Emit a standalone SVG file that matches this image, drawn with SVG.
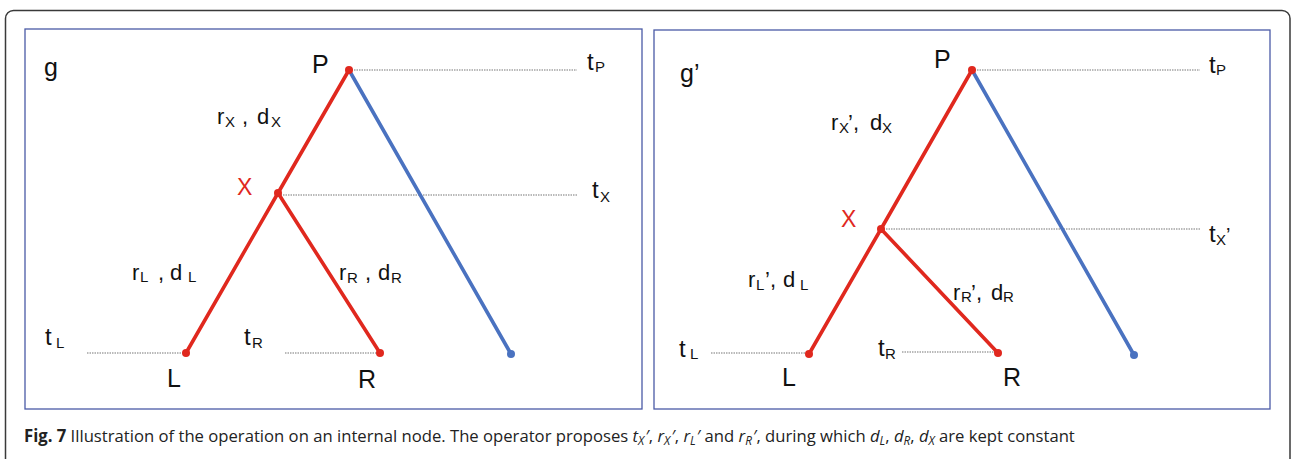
<svg xmlns="http://www.w3.org/2000/svg" width="1292" height="459" viewBox="0 0 1292 459">
<style>
.frame{fill:none;stroke:#3a3a3a;stroke-width:1.5}
.panel{fill:#fff;stroke:#4a5aa6;stroke-width:1.3}
.red{stroke:#e0281e;stroke-width:3.6;fill:none;stroke-linecap:round}
.blue{stroke:#4a72c0;stroke-width:3.6;fill:none;stroke-linecap:round}
.dot{stroke:#777;stroke-width:1.2;stroke-dasharray:1.5 1;fill:none}
.rd{fill:#e0281e}
.bd{fill:#4a72c0}
text{font-family:"Liberation Sans",Arial,sans-serif;fill:#111}
.node{font-size:25px}
.lab{font-size:22px}
.tl{font-size:24px}
.sub{font-size:15px}
.cap{font-family:"Open Sans","Liberation Sans",sans-serif;font-size:17px;fill:#222}
.cs{font-size:12px}
</style>
<rect class="frame" x="5.5" y="10.5" width="1284.5" height="480" rx="8"/>
<rect class="panel" x="25" y="29" width="617" height="380"/>
<rect class="panel" x="654" y="30" width="616" height="379"/>

<g id="connectors">
  <line class="dot" x1="349" y1="70" x2="577" y2="70"/>
  <line class="dot" x1="278" y1="195" x2="577" y2="195"/>
  <line class="dot" x1="87" y1="353" x2="186" y2="353"/>
  <line class="dot" x1="285" y1="353" x2="380" y2="353"/>
  <line class="blue" x1="349" y1="70" x2="511" y2="354"/>
  <line class="red" x1="349" y1="70" x2="278" y2="193"/>
  <line class="red" x1="278" y1="193" x2="186" y2="353"/>
  <line class="red" x1="278" y1="193" x2="380" y2="353"/>

  <line class="dot" x1="972" y1="70" x2="1200" y2="70"/>
  <line class="dot" x1="881" y1="229" x2="1200" y2="229"/>
  <line class="dot" x1="711" y1="353" x2="809" y2="353"/>
  <line class="dot" x1="902" y1="352" x2="998" y2="352"/>
  <line class="blue" x1="972" y1="70" x2="1134" y2="355"/>
  <line class="red" x1="972" y1="70" x2="881" y2="229"/>
  <line class="red" x1="881" y1="229" x2="809" y2="354"/>
  <line class="red" x1="881" y1="229" x2="998" y2="353"/>
</g>

<!-- left panel -->
<text class="node" x="44" y="76">g</text>
<g id="P1"><circle class="rd" cx="349" cy="70" r="4"/><text class="node" x="312" y="73">P</text></g>
<g id="X1"><circle class="rd" cx="278" cy="193" r="4"/><text class="node" x="237" y="195" style="fill:#e0281e;font-size:23px">X</text></g>
<g id="L1"><circle class="rd" cx="186" cy="353" r="4"/><text class="node" x="167" y="387">L</text></g>
<g id="R1"><circle class="rd" cx="380" cy="353" r="4"/><text class="node" x="358" y="388">R</text></g>
<g id="B1"><circle class="bd" cx="511" cy="354" r="4"/></g>
<text class="lab"><tspan x="217" y="124">r</tspan><tspan class="sub" x="225" y="127">X</tspan><tspan x="242" y="124">,</tspan><tspan x="257" y="124">d</tspan><tspan class="sub" x="271" y="127">X</tspan></text>
<text class="tl"><tspan x="587" y="70">t</tspan><tspan class="sub" x="595" y="72">P</tspan></text>
<text class="tl"><tspan x="592" y="198">t</tspan><tspan class="sub" x="600" y="202">X</tspan></text>
<text class="lab"><tspan x="132" y="280">r</tspan><tspan class="sub" x="140" y="282">L</tspan><tspan x="158" y="280">,</tspan><tspan x="170" y="280">d</tspan><tspan class="sub" x="188" y="282">L</tspan></text>
<text class="lab"><tspan x="339" y="280">r</tspan><tspan class="sub" x="347" y="283">R</tspan><tspan x="365" y="280">,</tspan><tspan x="378" y="280">d</tspan><tspan class="sub" x="391" y="283">R</tspan></text>
<text class="tl"><tspan x="45" y="345">t</tspan><tspan class="sub" x="56" y="348">L</tspan></text>
<text class="tl"><tspan x="244" y="345">t</tspan><tspan class="sub" x="252" y="348">R</tspan></text>

<!-- right panel -->
<text class="node" x="680" y="82">g’</text>
<g id="P2"><circle class="rd" cx="972" cy="70" r="4"/><text class="node" x="934" y="68">P</text></g>
<g id="X2"><circle class="rd" cx="881" cy="229" r="4"/><text class="node" x="841" y="227" style="fill:#e0281e;font-size:23px">X</text></g>
<g id="L2"><circle class="rd" cx="809" cy="354" r="4"/><text class="node" x="782" y="386">L</text></g>
<g id="R2"><circle class="rd" cx="998" cy="353" r="4"/><text class="node" x="1003" y="386">R</text></g>
<g id="B2"><circle class="bd" cx="1134" cy="355" r="4"/></g>
<text class="lab"><tspan x="831" y="130">r</tspan><tspan class="sub" x="839" y="133">X</tspan><tspan x="848" y="130">’,</tspan><tspan x="870" y="130">d</tspan><tspan class="sub" x="882" y="133">X</tspan></text>
<text class="tl"><tspan x="1209" y="73">t</tspan><tspan class="sub" x="1216" y="75">P</tspan></text>
<text class="tl"><tspan x="1209" y="242">t</tspan><tspan class="sub" x="1216" y="245">X</tspan><tspan x="1226" y="242" style="font-size:20px">’</tspan></text>
<text class="lab"><tspan x="748" y="287">r</tspan><tspan class="sub" x="756" y="290">L</tspan><tspan x="765" y="287">’,</tspan><tspan x="783" y="287">d</tspan><tspan class="sub" x="800" y="290">L</tspan></text>
<text class="lab"><tspan x="953" y="300">r</tspan><tspan class="sub" x="961" y="302">R</tspan><tspan x="971" y="300">’,</tspan><tspan x="991" y="300">d</tspan><tspan class="sub" x="1003" y="302">R</tspan></text>
<text class="tl"><tspan x="679" y="357">t</tspan><tspan class="sub" x="690" y="359">L</tspan></text>
<text class="tl"><tspan x="878" y="356">t</tspan><tspan class="sub" x="885" y="359">R</tspan></text>

<g transform="translate(24 442) scale(0.98 1)">
<text class="cap" x="0" y="0"><tspan font-weight="bold">Fig. 7</tspan> Illustration of the operation on an internal node. The operator proposes <tspan font-style="italic">t</tspan><tspan class="cs" font-style="italic" dy="3">X</tspan><tspan font-style="italic" dx="1" dy="-3">′</tspan>, <tspan font-style="italic">r</tspan><tspan class="cs" font-style="italic" dy="3">X</tspan><tspan font-style="italic" dx="1" dy="-3">′</tspan>, <tspan font-style="italic">r</tspan><tspan class="cs" font-style="italic" dy="3">L</tspan><tspan font-style="italic" dx="1" dy="-3">′</tspan> and <tspan font-style="italic">r</tspan><tspan class="cs" font-style="italic" dy="3">R</tspan><tspan font-style="italic" dx="1" dy="-3">′</tspan>, during which <tspan font-style="italic">d</tspan><tspan class="cs" font-style="italic" dy="3">L</tspan><tspan dy="-3">, </tspan><tspan font-style="italic">d</tspan><tspan class="cs" font-style="italic" dy="3">R</tspan><tspan dy="-3">, </tspan><tspan font-style="italic">d</tspan><tspan class="cs" font-style="italic" dy="3">X</tspan><tspan dy="-3"> are kept constant</tspan></text>
</g>
</svg>
